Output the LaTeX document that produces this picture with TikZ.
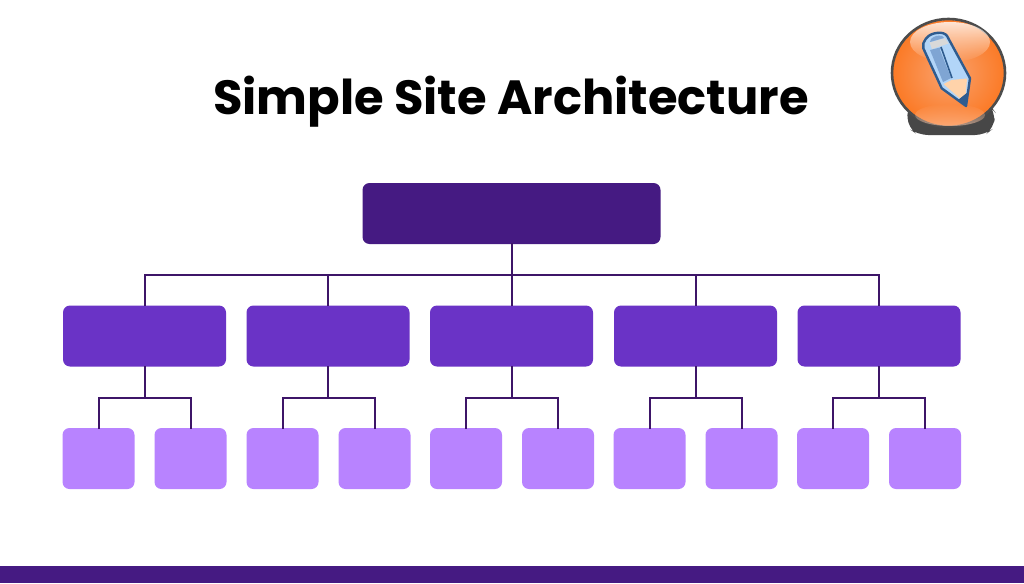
\documentclass[tikz,border=0pt]{standalone}
\usepackage{fontspec}
\setmainfont{Poppins}
\usetikzlibrary{calc,fadings}
\definecolor{cdark}{HTML}{451A82}
\definecolor{cmid}{HTML}{6A33C6}
\definecolor{clight}{HTML}{B883FF}
\definecolor{cline}{HTML}{3D1568}
\definecolor{orA}{HTML}{FB7A26}
\definecolor{orB}{HTML}{F9A26E}
\definecolor{penB}{HTML}{2F5C8F}
\definecolor{penL}{HTML}{B2D5F8}
\definecolor{penM}{HTML}{7FA5D3}
\definecolor{penT}{HTML}{FFD3AA}
\tikzset{
  boxbase/.style={rectangle,rounded corners=7pt,inner sep=0pt,draw=none},
  topbox/.style={boxbase,fill=cdark,minimum width=298pt,minimum height=61pt},
  midbox/.style={boxbase,fill=cmid,minimum width=163pt,minimum height=61pt},
  leafbox/.style={boxbase,fill=clight,minimum width=72pt,minimum height=61pt},
  link/.style={draw=cline,line width=2pt,line cap=rect},
  titletext/.style={font=\fontsize{48}{52}\selectfont\bfseries,text=black,inner sep=0pt}
}
\begin{document}
\begin{tikzpicture}[x=1pt,y=-1pt]
\useasboundingbox (0,0) rectangle (1024,583);
\fill[white] (0,0) rectangle (1024,583);
\fill[cdark] (0,566) rectangle (1024,583);
\node[titletext] (title) at (511,102) {Simple Site Architecture};
\node[topbox] (top) at (511.5,213.5) {};
\coordinate (bus) at (511.5,275);
\draw[link] (top.south) -- (bus);
\foreach \i/\cx/\la/\lb in {1/144.5/98.5/190.5,2/328/282.5/374.5,3/511.5/466/558,4/695.5/649.5/741.5,5/879/833/925}{
  \node[midbox] (mid\i) at (\cx,336) {};
  \node[leafbox] (la\i) at (\la,458.5) {};
  \node[leafbox] (lb\i) at (\lb,458.5) {};
  \coordinate (fork\i) at (\cx,397.5);
  \draw[link] (bus) -| (mid\i.north);
  \draw[link] (mid\i.south) -- (fork\i);
  \draw[link] (fork\i) -| (la\i.north);
  \draw[link] (fork\i) -| (lb\i.north);
}
% icon
\fill[black!72,rounded corners=10pt] (907,105) -- (990,105) -- (995,112) -- (994,128) -- (985,135) -- (918,135) -- (908,128) -- cycle;
\shade[inner color=orB,outer color=orA] (948.5,73) ellipse [x radius=56,y radius=53];
\draw[black!70,line width=2.6pt] (948.5,73) ellipse [x radius=56.5,y radius=54];
\fill[white,path fading=south,opacity=.8] (950,42) ellipse [x radius=40,y radius=20];
\fill[orB!60!white,path fading=north,opacity=.6] (950,115) ellipse [x radius=35,y radius=11];
\begin{scope}[line join=round]
\path[fill=penL] (923.3,43.3) .. controls (926,37) and (930,33) .. (940,32.7) .. controls (945,33) and (947,35) .. (948.3,38.3) -- (970,78.3) -- (966,106) -- (941.7,88.3) -- (923.3,48.3) -- cycle;
\fill[penM] (930,50) -- (943,82) -- (951,78) -- (940,50) -- (942,47) -- cycle;
\fill[penT] (943.5,84) -- (951.5,80) -- (967,78.5) -- (965,103) -- cycle;
\fill[white!85!black] (929.5,42.5) -- (945,38) -- (948.5,43.5) -- (932,49) -- cycle;
\fill[penM] (931,39) .. controls (934,36) and (938,35) .. (942,36) -- (944,38) -- (930,42) -- cycle;
\draw[penB,line width=1.6pt] (941,47) -- (952,78);
\fill[penB] (966,106) -- (958,100) -- (968,92) -- cycle;
\draw[penB,line width=2.4pt] (923.3,43.3) .. controls (926,37) and (930,33) .. (940,32.7) .. controls (945,33) and (947,35) .. (948.3,38.3) -- (970,78.3) -- (966,106) -- (941.7,88.3) -- (923.3,48.3) -- cycle;
\end{scope}
\end{tikzpicture}
\end{document}
